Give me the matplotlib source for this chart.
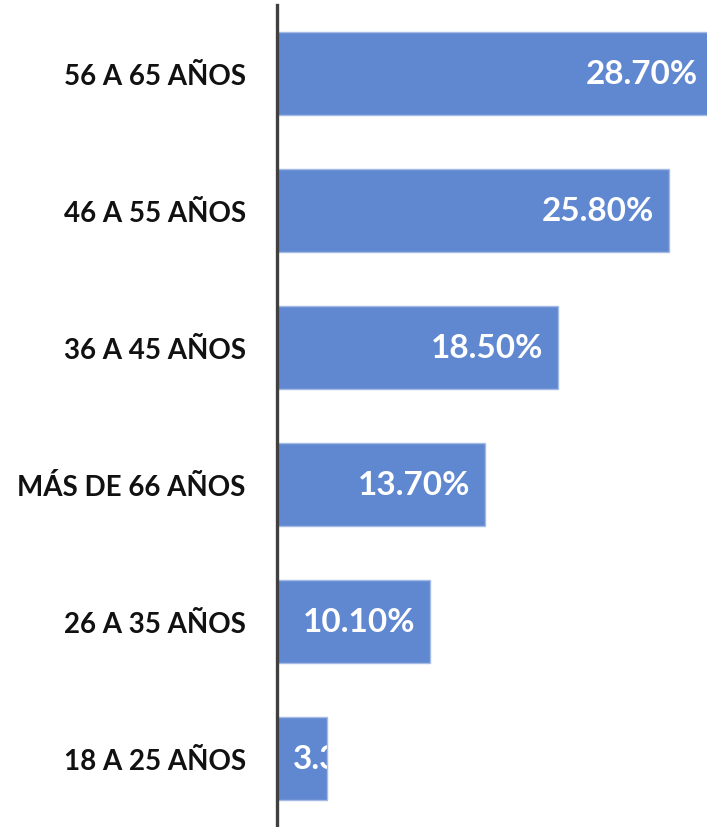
import matplotlib
matplotlib.use("Agg")
import matplotlib.pyplot as plt

categories = ["56 A 65 AÑOS", "46 A 55 AÑOS", "36 A 45 AÑOS", "MÁS DE 66 AÑOS", "26 A 35 AÑOS", "18 A 25 AÑOS"]
values = [28.70, 25.80, 18.50, 13.70, 10.10, 3.30]

W, H, DPI = 707, 828, 100
fig = plt.figure(figsize=(W / DPI, H / DPI), dpi=DPI)
ax = fig.add_axes([277 / W, 0, 1 - 277 / W, 1 - 6 / H])

bar_color = "#6088d0"
edge_color = "#a4bbe4"
ypos = list(range(len(categories)))
bars = ax.barh(ypos, values, height=0.605, color=bar_color, edgecolor=edge_color, linewidth=1.0)

ax.set_xlim(0, 28.3)
ax.set_ylim(len(categories) - 0.5, -0.5)
ax.set_yticks(ypos)
ax.set_yticklabels(categories, fontfamily="Lato", fontweight="bold", fontsize=20, color="#111111")
ax.tick_params(axis="y", length=0, pad=22.5)
ax.set_xticks([])
for s in ["top", "right", "bottom"]:
    ax.spines[s].set_visible(False)
ax.spines["left"].set_color("#404040")
ax.spines["left"].set_linewidth(2.4)
ax.spines["left"].set_zorder(5)

fig.canvas.draw()
renderer = fig.canvas.get_renderer()
px_per_unit = ax.transData.transform((1, 0))[0] - ax.transData.transform((0, 0))[0]
pad = 15 / px_per_unit
for b, v, y in zip(bars, values, ypos):
    t = ax.text(v - pad, y, f"{v:.2f}%", ha="right", va="center", color="white",
                fontfamily="Lato", fontweight="bold", fontsize=24, clip_on=False)
    wpx = t.get_window_extent(renderer).width
    if wpx + 32 > v * px_per_unit:
        t.set_x(16 / px_per_unit)
        t.set_ha("left")
        t.set_clip_path(b)
        t.set_clip_on(True)

fig.savefig("out.png", dpi=DPI)
